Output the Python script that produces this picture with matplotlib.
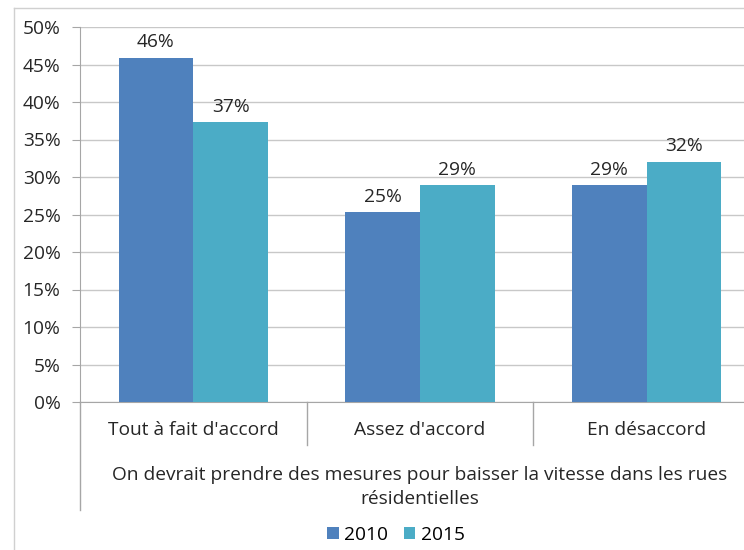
import matplotlib
matplotlib.use("Agg")
import matplotlib.pyplot as plt
import matplotlib.transforms as mtransforms
from matplotlib.lines import Line2D
import numpy as np

categories = ["Tout à fait d'accord", "Assez d'accord", "En désaccord"]
years = ["2010", "2015"]
values_2010 = [45.9, 25.3, 28.9]
values_2015 = [37.3, 28.9, 32.0]
labels_2010 = ["46%", "25%", "29%"]
labels_2015 = ["37%", "29%", "32%"]
x_title = "On devrait prendre des mesures pour baisser la vitesse dans les rues\nrésidentielles"

plt.rcParams['font.family'] = ['Open Sans', 'DejaVu Sans']
W, H = 744, 550
fig = plt.figure(figsize=(W / 100, H / 100), dpi=100)

# plot area (chart is cropped on the right in the original)
left, right, top, bottom = 80, 760, 27, 402
ax = fig.add_axes([left / W, 1 - bottom / H, (right - left) / W, (bottom - top) / H])

col_2010 = '#4F81BD'
col_2015 = '#4BACC6'
grid_col = '#C8C8C8'
axis_col = '#A6A6A6'
txt_col = '#262626'
fs = 13.8

x = np.arange(len(categories))
w = 0.33
b1 = ax.bar(x - w / 2, values_2010, w, color=col_2010, label=years[0], zorder=3)
b2 = ax.bar(x + w / 2, values_2015, w, color=col_2015, label=years[1], zorder=3)

for bars, labs in ((b1, labels_2010), (b2, labels_2015)):
    for bar, lab in zip(bars, labs):
        ax.text(bar.get_x() + bar.get_width() / 2, bar.get_height() + 0.9, lab,
                ha='center', va='bottom', fontsize=fs, color=txt_col)

ax.set_xlim(-0.5, 2.5)
ax.set_ylim(0, 50)
ax.set_yticks(np.arange(0, 51, 5))
ax.set_yticklabels([f"{v}%" for v in range(0, 51, 5)], fontsize=fs, color=txt_col)
ax.tick_params(axis='y', length=6, color=axis_col, pad=8)
ax.yaxis.grid(True, color=grid_col, linewidth=1, zorder=0)
ax.set_axisbelow(True)

ax.set_xticks(x)
ax.set_xticklabels(categories, fontsize=fs, color=txt_col)
ax.tick_params(axis='x', length=0, pad=14)

for s in ['top', 'right']:
    ax.spines[s].set_visible(False)
ax.spines['left'].set_color(axis_col)
ax.spines['bottom'].set_color(axis_col)

# category separators and extended left axis (multi-level category axis)
trans = mtransforms.blended_transform_factory(ax.transData, ax.transAxes)
for xs in [0.5, 1.5]:
    ax.add_line(Line2D([xs, xs], [0, -43 / 375], transform=trans, color=axis_col,
                       linewidth=1, clip_on=False))
ax.add_line(Line2D([-0.5, -0.5], [0, -108 / 375], transform=trans, color=axis_col,
                   linewidth=1, clip_on=False))

ax.text(1, -85 / 375, x_title, transform=trans, ha='center', va='center',
        fontsize=fs, color=txt_col, linespacing=1.38)

# outer frame of the chart
fig.add_artist(Line2D([14 / W, 1], [1 - 8 / H, 1 - 8 / H], color='#D0D0D0', linewidth=1))
fig.add_artist(Line2D([14 / W, 14 / W], [0, 1 - 8 / H], color='#D0D0D0', linewidth=1))

fig.legend(handles=[b1, b2], labels=years, loc='center', bbox_to_anchor=(396 / W, 1 - 535 / H),
           ncol=2, frameon=False, fontsize=fs, handlelength=0.6, handleheight=0.6,
           columnspacing=0.8, handletextpad=0.3)

fig.savefig("out.png", dpi=100)
